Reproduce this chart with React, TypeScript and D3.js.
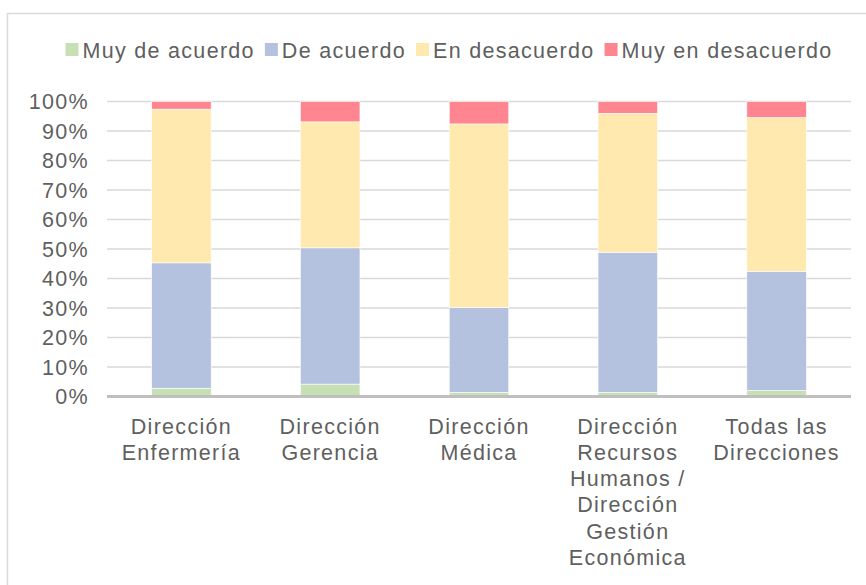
import React, { useRef, useEffect } from 'react';
import * as d3 from "d3";

const width = 866;
const height = 585;
const margin = ({top: 101.5, right: 15, bottom: 188.5, left: 107});

const categories = [
    "Dirección Enfermería",
    "Dirección Gerencia",
    "Dirección Médica",
    "Dirección Recursos Humanos / Dirección Gestión Económica",
    "Todas las Direcciones"
];
const categoryLines = [
    ["Dirección", "Enfermería"],
    ["Dirección", "Gerencia"],
    ["Dirección", "Médica"],
    ["Dirección", "Recursos", "Humanos /", "Dirección", "Gestión", "Económica"],
    ["Todas las", "Direcciones"]
];
const seriesNames = ["Muy de acuerdo", "De acuerdo", "En desacuerdo", "Muy en desacuerdo"];
const colors = ["#C6E0B4", "#B4C2E0", "#FFE9AF", "#FF8690"];

// percentages per category
const muyDeAcuerdo = [2.8, 4.2, 1.4, 1.4, 2.0];
const deAcuerdo = [42.5, 46.2, 28.8, 47.5, 40.4];
const enDesacuerdo = [52.1, 42.7, 62.2, 47.1, 52.2];
const muyEnDesacuerdo = [2.6, 6.9, 7.6, 4.0, 5.4];

const yTicks = [0, 10, 20, 30, 40, 50, 60, 70, 80, 90, 100];

const font = "'Liberation Sans', Arial, sans-serif";
const textColor = "#5f5f5f";
const fontSize = 21.5;
const spacing = 1.3;

export default function App() {
    const ref = useRef(null);

    useEffect(() => {
        const svg = d3.select(ref.current);
        svg.selectAll("*").remove();

        const rows = categories.map((c, i) => ({
            category: c,
            [seriesNames[0]]: muyDeAcuerdo[i],
            [seriesNames[1]]: deAcuerdo[i],
            [seriesNames[2]]: enDesacuerdo[i],
            [seriesNames[3]]: muyEnDesacuerdo[i]
        }));
        const stacked = d3.stack().keys(seriesNames)(rows);

        const x = d3.scaleBand()
            .domain(categories)
            .range([margin.left, width - margin.right])
            .paddingInner(0.6)
            .paddingOuter(0.3);

        const y = d3.scaleLinear()
            .domain([0, 100])
            .range([height - margin.bottom, margin.top]);

        // chart border
        svg.append("rect")
            .attr("x", 7.5).attr("y", 13.5)
            .attr("width", width).attr("height", height)
            .attr("fill", "none")
            .attr("stroke", "#D9D9D9")
            .attr("stroke-width", 1.5);

        // gridlines
        svg.append("g")
            .selectAll("line")
            .data(yTicks.filter(t => t > 0))
            .join("line")
            .attr("x1", margin.left).attr("x2", width - margin.right)
            .attr("y1", d => y(d)).attr("y2", d => y(d))
            .attr("stroke", "#D9D9D9")
            .attr("stroke-width", 1.5);

        // y labels
        svg.append("g")
            .selectAll("text")
            .data(yTicks)
            .join("text")
            .attr("x", 89)
            .attr("y", d => y(d))
            .attr("dy", "0.36em")
            .attr("text-anchor", "end")
            .attr("font-family", font)
            .attr("font-size", fontSize)
            .attr("letter-spacing", spacing)
            .attr("fill", textColor)
            .text(d => d + "%");

        // bars
        svg.append("g")
            .selectAll("g")
            .data(stacked)
            .join("g")
            .attr("fill", (d, i) => colors[i])
            .selectAll("rect")
            .data(d => d)
            .join("rect")
            .attr("x", d => x(d.data.category))
            .attr("width", x.bandwidth())
            .attr("y", d => y(d[1]))
            .attr("height", d => y(d[0]) - y(d[1]))
            .attr("stroke", "#fff")
            .attr("stroke-width", 0.6);

        // baseline
        svg.append("line")
            .attr("x1", margin.left).attr("x2", width - margin.right)
            .attr("y1", y(0)).attr("y2", y(0))
            .attr("stroke", "#BFBFBF")
            .attr("stroke-width", 3);

        // category labels
        const labels = svg.append("g")
            .selectAll("text")
            .data(categories)
            .join("text")
            .attr("font-family", font)
            .attr("font-size", fontSize)
            .attr("letter-spacing", spacing)
            .attr("fill", textColor)
            .attr("text-anchor", "middle");
        labels.selectAll("tspan")
            .data((d, i) => categoryLines[i].map(l => ({l, c: d})))
            .join("tspan")
            .attr("x", d => x(d.c) + x.bandwidth() / 2)
            .attr("y", (d, j) => y(0) + 37 + j * 26.3)
            .text(d => d.l);

        // legend
        const legend = svg.append("g");
        let cx = 0;
        seriesNames.forEach((name, i) => {
            const g = legend.append("g").attr("transform", `translate(${cx},0)`);
            g.append("rect")
                .attr("x", 0).attr("y", 43)
                .attr("width", 13).attr("height", 13)
                .attr("fill", colors[i]);
            const t = g.append("text")
                .attr("x", 17).attr("y", 58)
                .attr("font-family", font)
                .attr("font-size", fontSize)
                .attr("letter-spacing", spacing)
                .attr("fill", textColor)
                .text(name);
            cx += 17 + t.node().getComputedTextLength() + 10;
        });
        const total = cx - 10;
        legend.attr("transform", `translate(${449 - total / 2},0)`);
    }, []);

    return (
        <svg ref={ref} width={width} height={height}
            style={{position: "absolute", left: 0, top: 0, background: "#fff"}} />
    );
}
